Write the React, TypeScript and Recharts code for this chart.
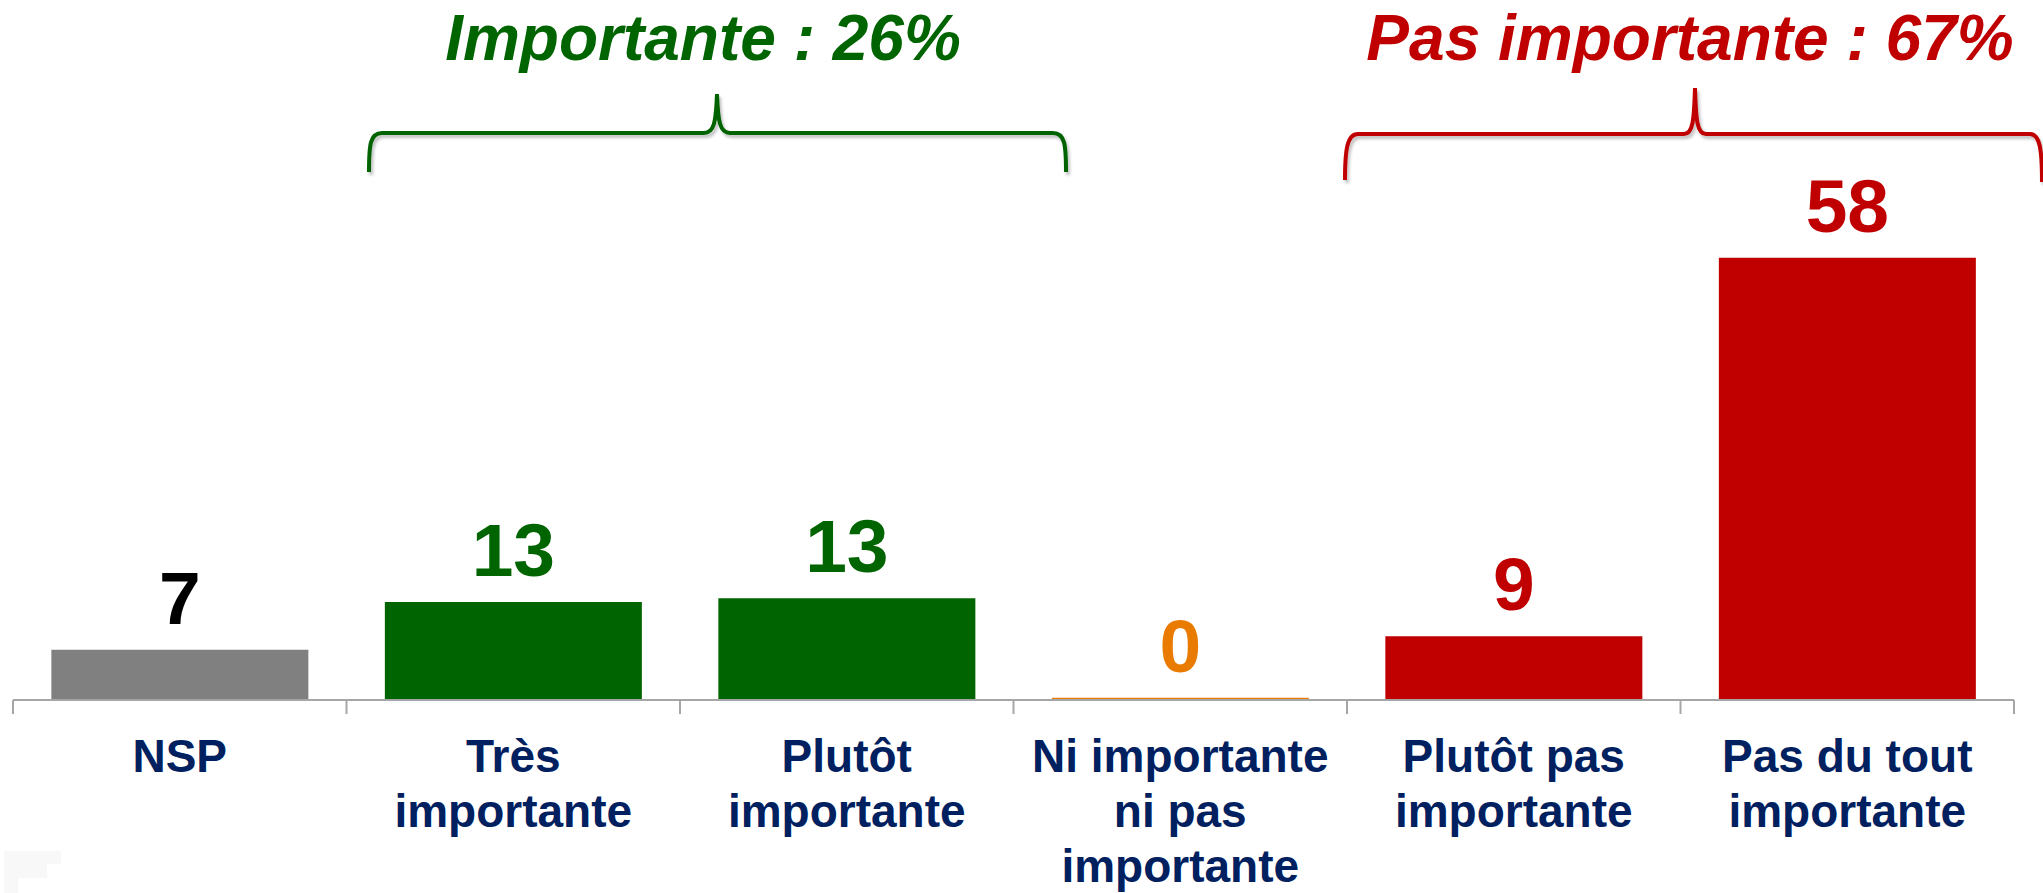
import React from "react"
import { BarChart, Bar, XAxis, YAxis, Cell } from "recharts"

const categories = [
  "NSP",
  "Très importante",
  "Plutôt importante",
  "Ni importante ni pas importante",
  "Plutôt pas importante",
  "Pas du tout importante",
]
const tickLines = [
  ["NSP"],
  ["Très", "importante"],
  ["Plutôt", "importante"],
  ["Ni importante", "ni pas", "importante"],
  ["Plutôt pas", "importante"],
  ["Pas du tout", "importante"],
]
const values = [6.6, 12.9, 13.4, 0.3, 8.4, 58.2]
const valueLabels = ["7", "13", "13", "0", "9", "58"]
const barColors = ["#808080", "#006400", "#006400", "#E97C00", "#C00000", "#C00000"]

const groupTitles = ["Importante : 26%", "Pas importante : 67%"]

const W = 2043
const H = 893
const MARGIN = { top: 244, right: 29, left: 13, bottom: 0 }
const PLOT_W = W - MARGIN.left - MARGIN.right
const FONT = "'Liberation Sans', Arial, sans-serif"
const NAVY = "#002060"
const AXIS = "#A6A6A6"

const data = categories.map((name, i) => ({ name, value: values[i] }))

function AxisTick(props: any) {
  const { x, y, payload } = props
  const i = categories.indexOf(payload.value)
  const band = PLOT_W / categories.length
  const lines = tickLines[i] || []
  return (
    <g>
      <line x1={x - band / 2} x2={x - band / 2} y1={y} y2={y + 14} stroke={AXIS} strokeWidth={2} />
      {i === categories.length - 1 && (
        <line x1={x + band / 2} x2={x + band / 2} y1={y} y2={y + 14} stroke={AXIS} strokeWidth={2} />
      )}
      <text textAnchor="middle" fontFamily={FONT} fontWeight="bold" fontSize={46} fill={NAVY}>
        {lines.map((l, k) => (
          <tspan key={k} x={x} y={y + 72 + k * 55}>{l}</tspan>
        ))}
      </text>
    </g>
  )
}

function ValueLabel(props: any) {
  const { x, y, width, index } = props
  return (
    <text
      x={x + width / 2}
      y={y - 26}
      textAnchor="middle"
      fontFamily={FONT}
      fontWeight="bold"
      fontSize={75}
      fill={index === 0 ? "#000000" : barColors[index]}
    >
      {valueLabels[index]}
    </text>
  )
}

export default function App() {
  return (
    <div style={{ position: "absolute", left: 0, top: 0, width: W, height: H, background: "#fff" }}>
      <BarChart width={W} height={H} data={data} margin={MARGIN} barCategoryGap="11.5%">
        <XAxis
          dataKey="name"
          height={193}
          interval={0}
          tickSize={0}
          tickMargin={0}
          tickLine={false}
          axisLine={{ stroke: AXIS, strokeWidth: 2 }}
          tick={<AxisTick />}
        />
        <YAxis hide domain={[0, 60]} />
        <Bar dataKey="value" isAnimationActive={false} label={<ValueLabel />}>
          {data.map((d, i) => (
            <Cell key={d.name} fill={barColors[i]} />
          ))}
        </Bar>
      </BarChart>

      <svg
        width={W}
        height={H}
        style={{ position: "absolute", left: 0, top: 0, pointerEvents: "none" }}
      >
        <defs>
          <filter id="sh" x="-5%" y="-20%" width="110%" height="150%">
            <feDropShadow dx="2" dy="3" stdDeviation="1.5" floodColor="#000" floodOpacity="0.25" />
          </filter>
        </defs>
        {/* faint mark bottom-left */}
        <path d="M4,851 L61,851 L61,864 L47,864 L47,878 L18,878 L18,893 L4,893 Z" fill="#F8F8F8" />

        <text x={703} y={60} textAnchor="middle" fontFamily={FONT} fontWeight="bold" fontStyle="italic" fontSize={64} fill="#006400">
          {groupTitles[0]}
        </text>
        <text x={1690} y={60} textAnchor="middle" fontFamily={FONT} fontWeight="bold" fontStyle="italic" fontSize={64} fill="#C00000">
          {groupTitles[1]}
        </text>

        <path
          d="M369,172 C369,145 370,133 382,133 L704,133 C714,133 716,122 717,94 C718,122 720,133 730,133 L1053,133 C1065,133 1066,145 1066,172"
          fill="none"
          stroke="#006400"
          strokeWidth={4}
          filter="url(#sh)"
        />
        <path
          d="M1345,180 C1345,150 1347,134 1358,134 L1684,134 C1693,134 1694,120 1695,88 C1696,120 1697,134 1706,134 L2030,134 C2040,134 2042,150 2042,182"
          fill="none"
          stroke="#C00000"
          strokeWidth={4}
          filter="url(#sh)"
        />
      </svg>
    </div>
  )
}
